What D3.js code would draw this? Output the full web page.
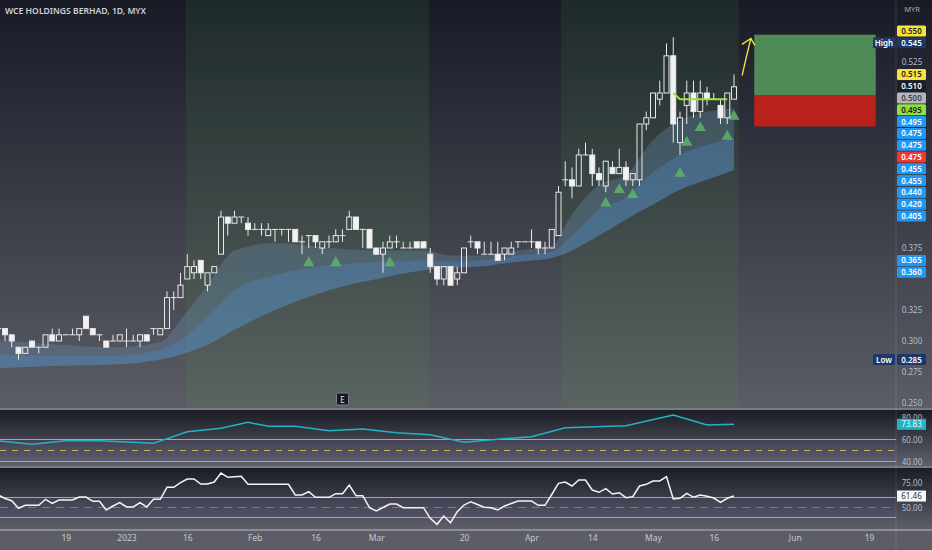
<!DOCTYPE html>
<html>
<head>
<meta charset="utf-8">
<script src="https://cdn.jsdelivr.net/npm/d3@7"></script>
<style>
  body { margin: 0; background: #181b26; overflow: hidden; }
  text { font-family: "Noto Sans", sans-serif; }
</style>
</head>
<body>
<svg id="chart" width="932" height="550"></svg>
<script>
// ---- data ----
// daily candles [open, high, low, close], first one is bar -1 (cut by the left edge)
var firstBar = -1;
var ohlc = [
  [.310,.310,.305,.310],
  [.310,.310,.300,.305],[.305,.305,.295,.300],[.295,.295,.285,.290],[.290,.295,.290,.295],[.300,.300,.295,.295],
  [.295,.295,.290,.295],[.295,.305,.295,.305],[.305,.310,.300,.300],[.300,.310,.300,.305],[.305,.305,.305,.305],
  [.305,.310,.305,.305],[.305,.310,.300,.310],[.320,.320,.310,.310],[.310,.310,.305,.305],[.305,.305,.300,.305],
  [.300,.300,.295,.295],[.300,.305,.300,.300],[.300,.305,.300,.305],[.300,.310,.295,.300],[.300,.305,.300,.300],
  [.300,.305,.295,.305],[.305,.305,.300,.300],[.310,.310,.305,.310],[.305,.310,.305,.310],[.310,.340,.310,.335],
  [.335,.340,.325,.335],[.335,.355,.335,.345],[.350,.370,.350,.360],[.355,.365,.350,.360],[.365,.365,.350,.355],
  [.345,.355,.340,.355],[.355,.360,.355,.360],[.370,.405,.370,.400],[.400,.400,.385,.395],[.395,.405,.395,.400],
  [.400,.400,.395,.400],[.395,.400,.385,.390],[.390,.395,.390,.390],[.390,.395,.385,.390],[.385,.395,.385,.390],
  [.390,.390,.380,.390],[.390,.390,.385,.390],[.390,.390,.380,.390],[.390,.390,.380,.380],[.380,.385,.370,.380],
  [.385,.385,.375,.385],[.385,.385,.375,.380],[.375,.380,.370,.380],[.380,.385,.375,.380],[.380,.390,.380,.385],
  [.385,.390,.380,.385],[.390,.405,.390,.400],[.400,.400,.390,.390],[.390,.390,.375,.390],[.390,.390,.375,.375],
  [.375,.375,.370,.370],[.370,.380,.355,.375],[.375,.385,.375,.380],[.380,.385,.375,.380],[.375,.380,.375,.375],
  [.375,.380,.375,.375],[.380,.380,.375,.375],[.380,.380,.375,.375],[.370,.375,.355,.360],[.360,.360,.345,.350],
  [.350,.360,.345,.360],[.360,.360,.345,.345],[.350,.360,.345,.355],[.355,.375,.355,.375],[.380,.385,.375,.380],
  [.380,.380,.370,.375],[.370,.380,.370,.370],[.370,.380,.370,.370],[.370,.380,.365,.365],[.370,.375,.365,.375],
  [.370,.380,.370,.375],[.380,.380,.375,.380],[.380,.380,.380,.380],[.380,.390,.375,.380],[.380,.380,.370,.375],
  [.375,.380,.370,.375],[.375,.390,.375,.390],[.385,.425,.385,.420],[.430,.445,.425,.430],[.430,.440,.415,.425],
  [.425,.455,.425,.450],[.450,.460,.450,.450],[.450,.455,.425,.435],[.435,.440,.425,.430],[.425,.445,.420,.445],
  [.440,.445,.435,.435],[.435,.455,.435,.440],[.440,.445,.425,.430],[.430,.435,.425,.435],[.430,.475,.425,.475],
  [.475,.485,.470,.480],[.480,.500,.480,.500],[.495,.510,.490,.500],[.500,.540,.500,.530],[.530,.545,.460,.475],
  [.460,.485,.450,.480],[.490,.510,.475,.500],[.500,.510,.480,.485],[.485,.510,.480,.500],[.500,.505,.490,.495],
  [.495,.500,.495,.495],[.490,.495,.475,.480],[.480,.500,.475,.500],[.495,.515,.495,.505]
];

// time axis
var tickBars = [9, 18, 27, 37, 46, 55, 68, 78, 87, 96, 105, 117, 128];
var tickLabels = ["19", "2023", "16", "Feb", "16", "Mar", "20", "Apr", "14", "May", "16", "Jun", "19"];
var priceTicks = [0.250, 0.275, 0.300, 0.325, 0.350, 0.375, 0.400, 0.425, 0.450, 0.475, 0.500, 0.525, 0.550];

// session highlight ranges (bar index)
var bandStarts = [26.8, 82.4];
var bandEnds = [62.8, 108.7];

// moving-average ribbon, sampled
var ribbonBars = [-1, 8, 16, 23, 26, 30, 34, 40, 48, 56, 62, 66, 70, 76, 81, 84, 88, 92, 96, 100, 104, 108];
var ribbonTop = [.301,.297,.295,.299,.317,.345,.373,.379,.375,.373,.373,.369,.369,.373,.377,.402,.426,.434,.462,.478,.485,.488];
var ribbonMid = [.289,.288,.288,.293,.301,.319,.341,.353,.361,.364,.365,.364,.365,.369,.372,.385,.406,.416,.436,.450,.458,.464];
var ribbonLow = [.278,.280,.281,.285,.289,.297,.309,.325,.341,.351,.357,.359,.360,.364,.367,.373,.385,.398,.410,.422,.430,.438];

// buy signals
var signalBars = [45, 49, 57, 89, 91, 93, 100, 101, 103, 107, 108];
var signalPrices = [.363, .363, .363, .411, .422, .418, .435, .460, .472, .465, .481];

// trailing line
var trailBars = [99, 100, 101, 102, 103, 104, 105, 106, 107];
var trailPrices = [.500, .495, .495, .495, .495, .495, .495, .495, .495];

// long position tool
var positionBars = [111, 129];
var positionEntry = 0.498, positionStop = 0.473, positionTarget = 0.547;
var arrowBars = [109.2, 110.5];
var arrowPrices = [0.514, 0.544];
var earningsBar = 50;

// indicator 1 (teal, weekly steps)
var weeklyBars = [-1, 4, 9, 14, 22, 27, 32, 36, 39, 43, 48, 53, 58, 63, 68, 73, 78, 83, 92, 99, 104, 108];
var weeklyValues = [58.9, 55.6, 58.9, 58.9, 56.5, 67.1, 70.2, 75.6, 72, 72, 68, 69.5, 66.2, 64.4, 57.5, 60.2, 62.5, 70.7, 72.5, 82.3, 73.2, 73.83];

// indicator 2 (white, daily), first value is bar -1
var dailyValues = [
  62.5, 59, 56.8, 49.2, 52.2, 52.2, 52.2, 58.2, 54.2, 57.5,
  57.5, 57.5, 60.5, 60.5, 56.2, 56.2, 47.5, 51.5, 54.8, 50.5,
  50.5, 54.8, 50.5, 58.2, 58.2, 70.2, 70.2, 74.8, 78.5, 78.5,
  73.5, 73.5, 75.5, 84.5, 80.2, 80.7, 81.2, 73.2, 73.2, 73.2,
  73.2, 73.2, 73.2, 73.2, 62.5, 62.5, 65.8, 60.2, 60.2, 60.2,
  63.8, 63.8, 72.5, 61.8, 61.8, 49.8, 46.5, 50, 53.5, 53.5,
  49.8, 49.8, 49.8, 49.8, 39.2, 33.2, 41.5, 34.8, 45.8, 52.5,
  55.8, 53, 50.2, 49.8, 47.5, 51.5, 54, 56.5, 56.5, 56.5,
  52.2, 52.2, 63, 74.2, 75.5, 71.5, 77.5, 77.5, 67.5, 65.2,
  68.8, 63.5, 64.8, 59.8, 60.8, 71.5, 73.2, 76.5, 76.5, 80.8,
  58.5, 59.2, 64.2, 60.2, 62.5, 61.2, 59.5, 55.2, 59.2, 61.46
];

// price scale badges (value, background, text colour)
var badgeValues = [.550, .545, .515, .510, .500, .495, .495, .475, .475, .475, .455, .455, .440, .420, .405, .365, .360, .285];
var badgeColors = ["#f5e23c", "#1c3768", "#f5e23c", "#1b1e29", "#b4b6bd", "#8fe03e", "#2196f3", "#2196f3", "#2196f3", "#f23632",
                   "#2196f3", "#2196f3", "#2196f3", "#2196f3", "#2196f3", "#2196f3", "#2196f3", "#1c3768"];
var badgeText = ["#222", "#fff", "#222", "#fff", "#444", "#222", "#fff", "#fff", "#fff", "#fff",
                 "#fff", "#fff", "#fff", "#fff", "#fff", "#fff", "#fff", "#fff"];
var badgeFlags = {1: "High", 17: "Low"};

// ---- layout ----
var width = 932, height = 550, axisX = 896;
var mainBottom = 408, p1Top = 410, p1Bottom = 466, p2Top = 468, p2Bottom = 530;

var svg = d3.select("#chart");

var xScale = d3.scaleLinear().domain([-1, 128]).range([-1.75, 869]);
var yScale = d3.scaleLinear().domain([0.25, 0.55]).range([403, 31]);
var y1Scale = d3.scaleLinear().domain([40, 80]).range([461.5, 417.5]);
var y2Scale = d3.scaleLinear().domain([50, 75]).range([507.5, 482.5]);

var lastWeekly = weeklyValues[weeklyValues.length - 1];
var lastDaily = dailyValues[dailyValues.length - 1];

var defs = svg.append("defs");
function vGrad(id, c0, c1) {
  var g = defs.append("linearGradient").attr("id", id).attr("x1", 0).attr("y1", 0).attr("x2", 0).attr("y2", 1);
  g.append("stop").attr("offset", "0%").attr("stop-color", c0);
  g.append("stop").attr("offset", "100%").attr("stop-color", c1);
}
vGrad("mainBg", "#181b26", "#5b5d66");
vGrad("panelBg", "#1a1c26", "#5f606b");
defs.append("clipPath").attr("id", "mainClip").append("rect")
  .attr("x", 0).attr("y", 0).attr("width", axisX).attr("height", mainBottom);
defs.append("clipPath").attr("id", "p1Clip").append("rect")
  .attr("x", 0).attr("y", p1Top).attr("width", axisX).attr("height", p1Bottom - p1Top);
defs.append("clipPath").attr("id", "p2Clip").append("rect")
  .attr("x", 0).attr("y", p2Top).attr("width", axisX).attr("height", p2Bottom - p2Top);
// the 80.00 label only shows between the pane top and the value badge
defs.append("clipPath").attr("id", "p1AxisClip").append("rect")
  .attr("x", axisX).attr("y", p1Top).attr("width", width - axisX).attr("height", y1Scale(lastWeekly) - 5.5 - p1Top);

// backgrounds
svg.append("rect").attr("width", width).attr("height", mainBottom).attr("fill", "url(#mainBg)");
svg.append("rect").attr("y", p1Top).attr("width", width).attr("height", p1Bottom - p1Top).attr("fill", "url(#panelBg)");
svg.append("rect").attr("y", p2Top).attr("width", width).attr("height", p2Bottom - p2Top).attr("fill", "url(#panelBg)");
svg.append("rect").attr("y", p2Bottom).attr("width", width).attr("height", height - p2Bottom).attr("fill", "#5c5d66");

// session highlight bands
var main = svg.append("g").attr("clip-path", "url(#mainClip)");
main.selectAll("rect.band")
  .data(bandStarts)
  .enter().append("rect")
  .attr("class", "band")
  .attr("x", function(d) { return xScale(d); })
  .attr("y", 0)
  .attr("width", function(d, i) { return xScale(bandEnds[i]) - xScale(d); })
  .attr("height", mainBottom)
  .attr("fill", "rgba(80,160,70,0.12)");

// ribbon
var ribbon = ribbonBars.map(function(b, i) { return {b: b, top: ribbonTop[i], mid: ribbonMid[i], low: ribbonLow[i]}; });
var areaTop = d3.area().curve(d3.curveMonotoneX)
  .x(function(d) { return xScale(d.b); })
  .y0(function(d) { return yScale(d.low); })
  .y1(function(d) { return yScale(d.top); });
var areaMid = d3.area().curve(d3.curveMonotoneX)
  .x(function(d) { return xScale(d.b); })
  .y0(function(d) { return yScale(d.low); })
  .y1(function(d) { return yScale(d.mid); });
main.append("path").datum(ribbon).attr("d", areaTop).attr("fill", "rgba(110,155,195,0.28)");
main.append("path").datum(ribbon).attr("d", areaMid).attr("fill", "rgba(75,140,205,0.32)");

// buy signal triangles
main.selectAll("path.signal")
  .data(signalBars)
  .enter().append("path")
  .attr("class", "signal")
  .attr("d", d3.symbol().type(d3.symbolTriangle).size(55))
  .attr("transform", function(d, i) { return "translate(" + xScale(d) + "," + yScale(signalPrices[i]) + ")"; })
  .attr("fill", "#5caf67")
  .attr("opacity", 0.9);

// candles
var candles = ohlc.map(function(c, i) { return {b: i + firstBar, o: c[0], h: c[1], l: c[2], c: c[3]}; });
var bodyW = 5;
var cg = main.selectAll("g.candle").data(candles).enter().append("g").attr("class", "candle");
cg.append("line")
  .attr("x1", function(d) { return xScale(d.b); })
  .attr("x2", function(d) { return xScale(d.b); })
  .attr("y1", function(d) { return yScale(d.h); })
  .attr("y2", function(d) { return yScale(Math.max(d.o, d.c)); })
  .attr("stroke", "#e8e8ea").attr("stroke-width", 1);
cg.append("line")
  .attr("x1", function(d) { return xScale(d.b); })
  .attr("x2", function(d) { return xScale(d.b); })
  .attr("y1", function(d) { return yScale(Math.min(d.o, d.c)); })
  .attr("y2", function(d) { return yScale(d.l); })
  .attr("stroke", "#e8e8ea").attr("stroke-width", 1);
cg.append("rect")
  .attr("x", function(d) { return xScale(d.b) - bodyW / 2; })
  .attr("y", function(d) { return yScale(Math.max(d.o, d.c)); })
  .attr("width", bodyW)
  .attr("height", function(d) { return Math.max(0.01, Math.abs(yScale(d.o) - yScale(d.c))); })
  .attr("fill", function(d) { return d.c < d.o ? "#f2f2f4" : "none"; })
  .attr("stroke", "#e8e8ea").attr("stroke-width", 1);

// trailing line
main.append("path")
  .datum(trailBars)
  .attr("d", d3.line().x(function(d) { return xScale(d); }).y(function(d, i) { return yScale(trailPrices[i]); }))
  .attr("fill", "none").attr("stroke", "#9be63c").attr("stroke-width", 2);

// position tool
main.append("rect")
  .attr("x", xScale(positionBars[0])).attr("width", xScale(positionBars[1]) - xScale(positionBars[0]))
  .attr("y", yScale(positionTarget)).attr("height", yScale(positionEntry) - yScale(positionTarget))
  .attr("fill", "#4f8b57");
main.append("rect")
  .attr("x", xScale(positionBars[0])).attr("width", xScale(positionBars[1]) - xScale(positionBars[0]))
  .attr("y", yScale(positionEntry)).attr("height", yScale(positionStop) - yScale(positionEntry))
  .attr("fill", "#bb211b");

// yellow arrow
var ax0 = xScale(arrowBars[0]), ay0 = yScale(arrowPrices[0]);
var ax1 = xScale(arrowBars[1]), ay1 = yScale(arrowPrices[1]);
main.append("path")
  .attr("d", "M" + ax0 + "," + ay0 + " Q" + (ax0 + 4) + "," + (ay0 - 18) + " " + ax1 + "," + ay1)
  .attr("fill", "none").attr("stroke", "#f2e13a").attr("stroke-width", 1.4);
main.append("path")
  .attr("d", "M" + (ax1 - 9) + "," + (ay1 + 6) + " L" + ax1 + "," + ay1 + " L" + (ax1 + 4) + "," + (ay1 + 7))
  .attr("fill", "none").attr("stroke", "#f2e13a").attr("stroke-width", 1.4);

// earnings marker
var ex = xScale(earningsBar);
svg.append("rect").attr("x", ex - 6).attr("y", 393).attr("width", 12).attr("height", 12).attr("rx", 1.5)
  .attr("fill", "#151823").attr("stroke", "#7d808a");
svg.append("text").attr("x", ex).attr("y", 402.5).attr("text-anchor", "middle")
  .attr("font-size", 8).attr("fill", "#e6e6e6").text("E");

// ---- indicator panel 1 ----
var p1 = svg.append("g").attr("clip-path", "url(#p1Clip)");
p1.append("rect").attr("x", 0).attr("width", axisX).attr("y", y1Scale(60)).attr("height", y1Scale(40) - y1Scale(60))
  .attr("fill", "rgba(120,100,200,0.08)");
[60, 40].forEach(function(v) {
  p1.append("line").attr("x1", 0).attr("x2", axisX).attr("y1", y1Scale(v)).attr("y2", y1Scale(v))
    .attr("stroke", "#a3a5ad").attr("stroke-width", 1);
});
p1.append("line").attr("x1", 0).attr("x2", axisX).attr("y1", y1Scale(50)).attr("y2", y1Scale(50))
  .attr("stroke", "#c9b54a").attr("stroke-width", 1).attr("stroke-dasharray", "6,6");
p1.append("path")
  .datum(weeklyBars)
  .attr("d", d3.line().x(function(d) { return xScale(d); }).y(function(d, i) { return y1Scale(weeklyValues[i]); }))
  .attr("fill", "none").attr("stroke", "#22b4c6").attr("stroke-width", 1.5);

// ---- indicator panel 2 ----
var p2 = svg.append("g").attr("clip-path", "url(#p2Clip)");
p2.append("rect").attr("x", 0).attr("width", axisX).attr("y", y2Scale(60)).attr("height", y2Scale(40) - y2Scale(60))
  .attr("fill", "rgba(120,100,200,0.08)");
[60, 40].forEach(function(v) {
  p2.append("line").attr("x1", 0).attr("x2", axisX).attr("y1", y2Scale(v)).attr("y2", y2Scale(v))
    .attr("stroke", "#a3a5ad").attr("stroke-width", 1);
});
p2.append("line").attr("x1", 0).attr("x2", axisX).attr("y1", y2Scale(50)).attr("y2", y2Scale(50))
  .attr("stroke", "#7b7993").attr("stroke-width", 1).attr("stroke-dasharray", "8,6");
p2.append("path")
  .datum(dailyValues)
  .attr("d", d3.line().x(function(d, i) { return xScale(i + firstBar); }).y(function(d) { return y2Scale(d); }))
  .attr("fill", "none").attr("stroke", "#f4f4f6").attr("stroke-width", 1.5);

// separators
[mainBottom + 1, p1Bottom + 1, p2Bottom].forEach(function(yy) {
  svg.append("line").attr("x1", 0).attr("x2", width).attr("y1", yy).attr("y2", yy)
    .attr("stroke", "#9a9ca5").attr("stroke-width", 1.3);
});
svg.append("line").attr("x1", axisX).attr("x2", axisX).attr("y1", 0).attr("y2", height)
  .attr("stroke", "rgba(255,255,255,0.12)");

// ---- price badges (stacked downward to avoid overlap) ----
var badgeH = 11.8, lastY = -100;
var badges = badgeValues.map(function(v, i) {
  var yy = Math.max(yScale(v), lastY + badgeH);
  lastY = yy;
  return {v: v, y: yy, bg: badgeColors[i], fg: badgeText[i], flag: badgeFlags[i]};
});

// tick labels hidden where a badge sits on them, like the price scale does
var visibleTicks = priceTicks.filter(function(t) {
  var ty = yScale(t);
  return !badges.some(function(b) { return Math.abs(b.y - ty) < badgeH * 0.75; });
});

// ---- axes ----
var priceAxis = d3.axisRight(yScale).tickValues(visibleTicks).tickSize(0).tickPadding(0).tickFormat(d3.format(".3f"));
var gp = svg.append("g").attr("transform", "translate(912,0)").call(priceAxis);
var a1top = svg.append("g").attr("clip-path", "url(#p1AxisClip)").append("g").attr("transform", "translate(912,0)")
  .call(d3.axisRight(y1Scale).tickValues([80]).tickSize(0).tickPadding(0).tickFormat(d3.format(".2f")));
var a1 = svg.append("g").attr("transform", "translate(912,0)")
  .call(d3.axisRight(y1Scale).tickValues([60, 40]).tickSize(0).tickPadding(0).tickFormat(d3.format(".2f")));
var a2 = svg.append("g").attr("transform", "translate(912,0)")
  .call(d3.axisRight(y2Scale).tickValues([75, 50]).tickSize(0).tickPadding(0).tickFormat(d3.format(".2f")));
var timeAxis = d3.axisBottom(xScale).tickValues(tickBars).tickSize(0).tickPadding(0)
  .tickFormat(function(d, i) { return tickLabels[i]; });
var gt = svg.append("g").attr("transform", "translate(0," + 535 + ")").call(timeAxis);
[gp, a1top, a1, a2, gt].forEach(function(g) {
  g.select(".domain").remove();
  g.selectAll("text").attr("font-family", "Noto Sans, sans-serif").attr("font-size", 8)
    .attr("fill", "#b9bbc3").attr("text-anchor", "middle");
});
gt.selectAll("text").attr("fill", "#c6c8ce").attr("font-size", 8.5);

var bg = svg.append("g");
bg.selectAll("rect").data(badges).enter().append("rect")
  .attr("x", axisX + 1).attr("y", function(d) { return d.y - badgeH / 2 + 0.4; })
  .attr("width", 29).attr("height", badgeH - 0.8).attr("rx", 1.5)
  .attr("fill", function(d) { return d.bg; });
bg.selectAll("text").data(badges).enter().append("text")
  .attr("x", axisX + 15.5).attr("y", function(d) { return d.y + 3; })
  .attr("text-anchor", "middle").attr("font-size", 8).attr("font-weight", 600)
  .attr("fill", function(d) { return d.fg; })
  .text(function(d) { return d3.format(".3f")(d.v); });
badges.filter(function(d) { return d.flag; }).forEach(function(d) {
  svg.append("rect").attr("x", axisX - 23).attr("y", d.y - badgeH / 2 + 0.4).attr("width", 22).attr("height", badgeH - 0.8)
    .attr("rx", 1.5).attr("fill", d.bg);
  svg.append("text").attr("x", axisX - 12).attr("y", d.y + 3).attr("text-anchor", "middle")
    .attr("font-size", 8).attr("font-weight", 600).attr("fill", "#fff").text(d.flag);
});

// indicator badges
function panelBadge(yy, txt, fill, color) {
  svg.append("rect").attr("x", axisX + 1).attr("y", yy - 5.5).attr("width", 29).attr("height", 11).attr("fill", fill);
  svg.append("text").attr("x", axisX + 15.5).attr("y", yy + 3).attr("text-anchor", "middle")
    .attr("font-size", 8).attr("fill", color).text(txt);
}
panelBadge(y1Scale(lastWeekly), d3.format(".2f")(lastWeekly), "#22b4c6", "#e9f6f8");
panelBadge(y2Scale(lastDaily), d3.format(".2f")(lastDaily), "#f7f7f7", "#333");

// titles
svg.append("text").attr("x", 5).attr("y", 14).attr("font-size", 8.6).attr("font-weight", 600)
  .attr("fill", "#cfd2da").text("WCE HOLDINGS BERHAD, 1D, MYX");
svg.append("text").attr("x", 912).attr("y", 12).attr("text-anchor", "middle").attr("font-size", 7.5)
  .attr("fill", "#a9abb3").text("MYR");
</script>
</body>
</html>
